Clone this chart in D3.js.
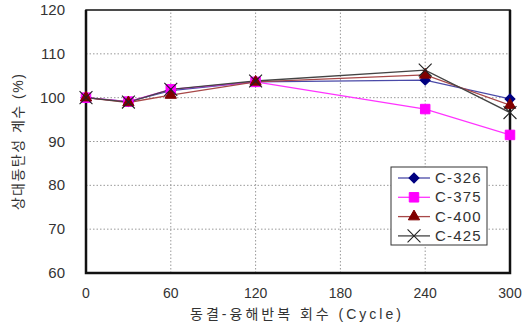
<!DOCTYPE html>
<html>
<head>
<meta charset="utf-8">
<script src="https://cdn.jsdelivr.net/npm/d3@7"></script>
<style>
body { margin:0; background:#fff; }
text { font-family: "Liberation Sans", "Noto Sans CJK KR", sans-serif; fill:#333; }
</style>
</head>
<body>
<div id="chart"></div>
<script>
// cycles on x axis
var cycles = [0, 30, 60, 120, 240, 300]
var c326 = [100, 99.1, 101.6, 103.6, 104.0, 99.7]
var c375 = [100, 99.1, 101.9, 103.6, 97.4, 91.5]
var c400 = [100, 98.9, 100.6, 103.6, 105.2, 98.3]
var c425 = [100, 99.0, 101.9, 103.8, 106.3, 96.6]
var xTicks = [0, 60, 120, 180, 240, 300]
var yTicks = [60, 70, 80, 90, 100, 110, 120]

var series = [
  {name:"C-326", values:c326, line:"#4a4aa8", fill:"#000080", shape:"diamond"},
  {name:"C-375", values:c375, line:"#ff33ff", fill:"#ff00ff", shape:"square"},
  {name:"C-400", values:c400, line:"#a84848", fill:"#800000", shape:"triangle"},
  {name:"C-425", values:c425, line:"#444444", fill:"#222222", shape:"cross"}
]

var width = 526, height = 325
var margin = {top:10, bottom:52, left:86, right:16}

var svg = d3.select("#chart").append("svg")
  .attr("width", width)
  .attr("height", height)

var x = d3.scaleLinear().domain([0,300]).range([margin.left, width - margin.right])
var y = d3.scaleLinear().domain([60,120]).range([height - margin.bottom, margin.top])

// grid
svg.append("g").selectAll("line")
  .data(yTicks.slice(1, -1))
  .join("line")
  .attr("x1", x(0)).attr("x2", x(300))
  .attr("y1", d => y(d)).attr("y2", d => y(d))
  .attr("stroke", "#999").attr("stroke-dasharray", "1.5,2")
svg.append("g").selectAll("line")
  .data(xTicks.slice(1, -1))
  .join("line")
  .attr("y1", y(60)).attr("y2", y(120))
  .attr("x1", d => x(d)).attr("x2", d => x(d))
  .attr("stroke", "#999").attr("stroke-dasharray", "1.5,2")

// frame
svg.append("rect")
  .attr("x", x(0)).attr("y", y(120))
  .attr("width", x(300) - x(0)).attr("height", y(60) - y(120))
  .attr("fill", "none").attr("stroke", "#111").attr("stroke-width", 1.5)
svg.append("path")
  .attr("d", `M${x(0)},${y(120)}V${y(60)}H${x(300)}V${y(120)}`)
  .attr("fill", "none").attr("stroke", "#111").attr("stroke-width", 2.5)

// tick labels
svg.append("g").selectAll("text")
  .data(yTicks)
  .join("text")
  .attr("x", x(0) - 21).attr("y", d => y(d) + 5)
  .attr("text-anchor", "end").attr("font-size", 15)
  .text(d => d)
svg.append("g").selectAll("text")
  .data(xTicks)
  .join("text")
  .attr("x", d => x(d)).attr("y", 298)
  .attr("text-anchor", "middle").attr("font-size", 14)
  .text(d => d)

// axis titles
svg.append("text")
  .attr("x", 297).attr("y", 319)
  .attr("text-anchor", "middle").attr("font-size", 14)
  .attr("letter-spacing", 3)
  .text("동결-융해반복 회수 (Cycle)")
svg.append("text")
  .attr("transform", `translate(23,${(y(60)+y(120))/2}) rotate(-90)`)
  .attr("text-anchor", "middle").attr("font-size", 14)
  .attr("letter-spacing", 1.5)
  .text("상대동탄성 계수 (%)")

function marker(g, shape, fill) {
  if (shape == "cross") {
    g.append("path").attr("d", d3.symbol(d3.symbolX, 110)())
      .attr("stroke", fill).attr("stroke-width", 1.1).attr("fill", "none")
  } else if (shape == "diamond") {
    g.append("path").attr("d", d3.symbol(d3.symbolSquare, 50)())
      .attr("transform", "rotate(45)")
      .attr("fill", fill).attr("stroke", fill)
  } else {
    var sym = shape == "square" ? d3.symbolSquare : d3.symbolTriangle
    g.append("path").attr("d", d3.symbol(sym, shape == "square" ? 90 : 55)())
      .attr("fill", fill).attr("stroke", fill)
  }
}

var line = d3.line().x((d,i) => x(cycles[i])).y(d => y(d))

series.forEach(function(s) {
  svg.append("path")
    .attr("d", line(s.values))
    .attr("fill", "none").attr("stroke", s.line).attr("stroke-width", 1.3)
})
series.forEach(function(s) {
  s.values.forEach(function(v, i) {
    var g = svg.append("g").attr("transform", `translate(${x(cycles[i])},${y(v)})`)
    marker(g, s.shape, s.fill)
  })
})

// legend
var lg = svg.append("g").attr("transform", "translate(391,167)")
lg.append("rect").attr("width", 96).attr("height", 78)
  .attr("fill", "#fff").attr("stroke", "#333").attr("stroke-width", 1)
series.forEach(function(s, i) {
  var ly = 11 + i * 19.3
  lg.append("line").attr("x1", 7).attr("x2", 39).attr("y1", ly).attr("y2", ly)
    .attr("stroke", s.line).attr("stroke-width", 1.3)
  var g = lg.append("g").attr("transform", `translate(23,${ly})`)
  marker(g, s.shape, s.fill)
  lg.append("text").attr("x", 44).attr("y", ly + 5)
    .attr("font-size", 15).attr("letter-spacing", 1.2).text(s.name)
})
</script>
</body>
</html>
